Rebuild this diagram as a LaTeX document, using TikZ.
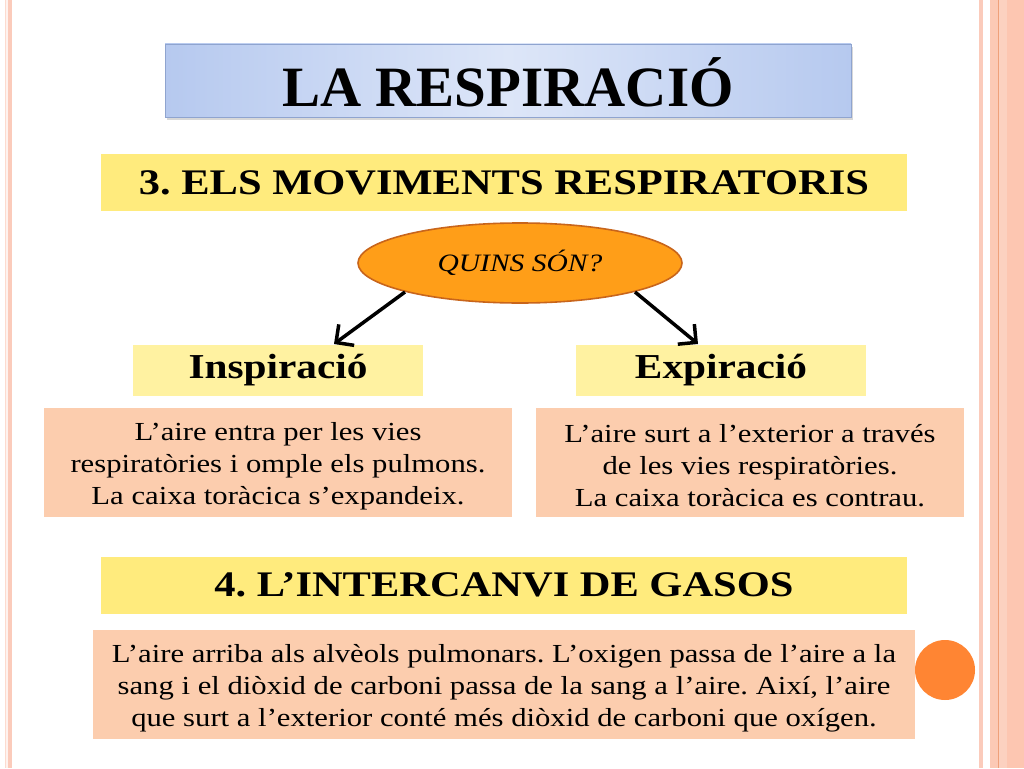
\documentclass[tikz,border=0pt]{standalone}
\usepackage{fontspec}
\setmainfont{Liberation Serif}
\newfontfamily\widefont[FakeStretch=1.18]{Liberation Serif}
\usetikzlibrary{arrows.meta,shapes.geometric}
\frenchspacing
\definecolor{stripeA}{HTML}{FBCBBB}
\definecolor{stripeB}{HTML}{FCC9B5}
\definecolor{stripeC}{HTML}{FDC6B1}
\definecolor{stripeLine}{HTML}{EFA07A}
\definecolor{titleblue}{HTML}{B6C9EF}
\definecolor{titlelight}{HTML}{DDE6F8}
\definecolor{titleedge}{HTML}{8FA4CF}
\definecolor{headyellow}{HTML}{FFEB7D}
\definecolor{lightyellow}{HTML}{FFF2A1}
\definecolor{peach}{HTML}{FCCDAE}
\definecolor{ellfill}{HTML}{FF9E18}
\definecolor{elledge}{HTML}{C8651B}
\definecolor{dotorange}{HTML}{FF8533}
\tikzset{
  headbox/.style={fill=headyellow, draw=none, minimum width=806pt, minimum height=57pt, inner sep=0pt,
    font=\widefont\frenchspacing\bfseries\fontsize{36}{40}\selectfont},
  subbox/.style={fill=lightyellow, draw=none, minimum width=290pt, minimum height=51pt, inner sep=0pt,
    font=\widefont\bfseries\fontsize{35}{38}\selectfont},
  textbox/.style={fill=none, draw=none, inner sep=0pt, align=center,
    font=\widefont\frenchspacing\fontsize{26}{32}\selectfont},
  arrowline/.style={line width=3.5pt, -{Straight Barb[length=13pt,width=26pt,line width=3.5pt]}}
}
\begin{document}
\begin{tikzpicture}[x=1pt,y=-1pt]
\useasboundingbox (0,0) rectangle (1024,768);
\fill[white] (0,0) rectangle (1024,768);
% left border stripes
\fill[stripeA!70] (4.5,0) rectangle (6,768);
\fill[stripeA!25] (6,0) rectangle (8,768);
\fill[stripeA] (8,0) rectangle (12,768);
% right border stripes
\fill[stripeA] (979,0) rectangle (982.7,768);
\fill[stripeB] (990,0) rectangle (998,768);
\fill[stripeLine] (998,0) rectangle (999.2,768);
\fill[stripeB!85] (999.2,0) rectangle (1007,768);
\fill[stripeC] (1007,0) rectangle (1024,768);
% title
\fill[black!30, opacity=0.5] (167,47) rectangle (853,120);
\shade[left color=titleblue, right color=titleblue, middle color=titlelight] (165,44) rectangle (851,117);
\draw[titleedge, line width=0.8pt] (165,44) rectangle (851,117);
\node[font=\bfseries\fontsize{57}{60}\selectfont] (title) at (508,82) {LA RESPIRACIÓ};
% section 3
\node[headbox] (h3) at (504,182.5) {3. ELS MOVIMENTS RESPIRATORIS};
\node[ellipse, fill=ellfill, draw=elledge, line width=1.6pt, minimum width=324pt, minimum height=80pt, inner sep=0pt,
  font=\widefont\itshape\fontsize{25}{28}\selectfont] (quins) at (520,263) {QUINS SÓN?};
\node[subbox] (insp) at (278,370.5) {Inspiració};
\node[subbox] (exp) at (721,370.5) {Expiració};
\coordinate (qa) at (405,292);
\coordinate (qb) at (635,292);
\coordinate (ia) at (334,344);
\coordinate (ea) at (698,344);
\draw[arrowline] (qa) -- (ia);
\draw[arrowline] (qb) -- (ea);
\fill[peach] (44,408) rectangle (512,517);
\fill[peach] (536,408) rectangle (964,517);
\fill[peach] (93,630) rectangle (915,739);
\node[textbox] (itext) at (278,466)
  {L’aire entra per les vies\\respiratòries i omple els pulmons.\\La caixa toràcica s’expandeix.};
\node[textbox] (etext) at (750,466)
  {L’aire surt a l’exterior a través\\de les vies respiratòries.\\La caixa toràcica es contrau.};
% section 4
\node[headbox] (h4) at (504,585) {4. L’INTERCANVI DE GASOS};
\node[textbox] (gtext) at (504,688)
  {L’aire arriba als alvèols pulmonars. L’oxigen passa de l’aire a la\\sang i el diòxid de carboni passa de la sang a l’aire. Així, l’aire\\que surt a l’exterior conté més diòxid de carboni que oxígen.};
\node[circle, fill=dotorange, minimum size=60pt, inner sep=0pt] (dot) at (945,670) {};
\end{tikzpicture}
\end{document}
